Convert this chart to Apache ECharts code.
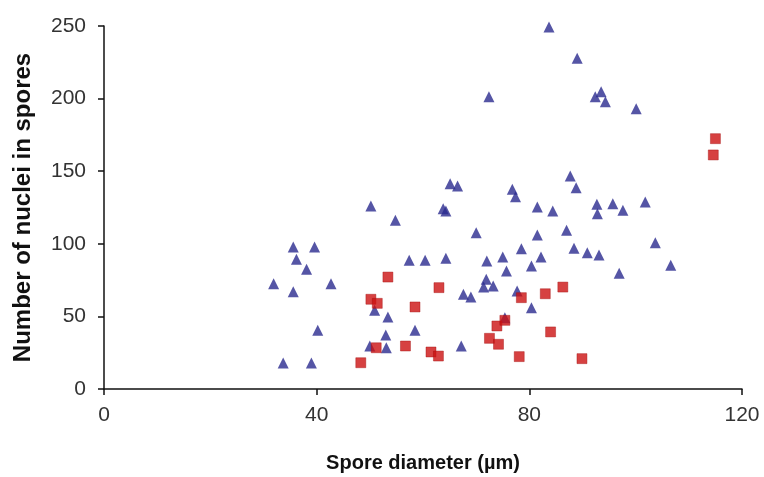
<!DOCTYPE html>
<html>
<head>
<meta charset="utf-8">
<title>Spore diameter vs nuclei</title>
<script src="https://cdn.jsdelivr.net/npm/echarts@6/dist/echarts.min.js"></script>
<style>
    html, body { margin: 0; padding: 0; background: #fff; }
    #chart { width: 764px; height: 477px; }
</style>
</head>
<body>
<div id="chart"></div>
<script>
// axis ticks
const xTicks = [0, 40, 80, 120];
const yTicks = [0, 50, 100, 150, 200, 250];

// blue triangles: [diameter, nuclei]
const triangleX = [31.9, 33.7, 35.6, 36.2, 35.6, 38.1, 39.6, 39.0, 40.2, 42.7,
    50.2, 50.9, 50.0, 53.1, 53.0, 53.4, 54.8, 57.4, 58.5, 60.4,
    63.8, 64.3, 64.3, 65.1, 66.5, 67.2, 67.6, 69.0, 70.0, 71.9,
    71.4, 73.2, 72.0, 72.4, 75.0, 75.4, 75.7, 76.8, 77.4, 77.7,
    78.5, 80.4, 80.4, 81.5, 81.5, 82.2, 83.7, 84.4, 87.0, 87.7,
    88.4, 88.8, 89.0, 90.9, 92.4, 92.7, 92.8, 93.1, 93.5, 94.3,
    95.7, 96.9, 97.6, 100.1, 101.8, 103.7, 106.6];
const triangleY = [72.5, 17.9, 97.8, 89.3, 67, 82.4, 97.8, 17.9, 40.4, 72.5,
    126, 54.2, 29.6, 28.4, 37.2, 49.6, 116.2, 88.6, 40.4, 88.6,
    124.2, 122.6, 90, 141.4, 139.8, 29.6, 65.2, 63.4, 107.6, 75.5,
    70.2, 70.9, 88.2, 201.3, 90.9, 49.1, 81.3, 137.5, 132.4, 67.5,
    96.6, 84.7, 56, 125.3, 106, 90.9, 249.3, 122.6, 109.3, 146.7,
    96.9, 138.6, 227.8, 93.9, 201.3, 127.2, 120.7, 92.3, 204.8, 197.9,
    127.6, 79.7, 123.1, 193, 128.8, 100.8, 85.2];

// red squares
const squareX = [48.3, 50.2, 51.4, 51.2, 53.4, 56.7, 58.5, 61.5, 62.9, 63.0,
    72.5, 73.9, 74.2, 75.4, 78.1, 78.5, 83.0, 84.0, 86.3, 89.9,
    114.6, 115.0];
const squareY = [18.1, 61.8, 59, 28.4, 77.1, 29.6, 56.5, 25.5, 22.7, 69.8,
    34.9, 43.4, 30.8, 47.3, 22.3, 62.9, 65.6, 39.3, 70.2, 20.9,
    161.2, 172.4];

function pairs(xs, ys) {
    return xs.map(function (x, i) { return [x, ys[i]]; });
}

const chart = echarts.init(document.getElementById('chart'));
const font = '"Liberation Sans", Arial, sans-serif';

chart.setOption({
    animation: false,
    grid: { left: 104, right: 22, top: 26, bottom: 88, outerBoundsMode: 'none' },
    xAxis: {
        type: 'value',
        min: xTicks[0],
        max: xTicks[xTicks.length - 1],
        interval: xTicks[1] - xTicks[0],
        name: 'Spore diameter (µm)',
        nameLocation: 'middle',
        nameGap: 64,
        nameTextStyle: { fontFamily: font, fontSize: 20, fontWeight: 'bold', color: '#111' },
        axisLine: { lineStyle: { color: '#111', width: 1.5 } },
        axisTick: { show: true, length: 6, lineStyle: { color: '#111', width: 1.5 } },
        axisLabel: { fontFamily: font, fontSize: 21, color: '#333', margin: 16 },
        splitLine: { show: false }
    },
    yAxis: {
        type: 'value',
        min: yTicks[0],
        max: yTicks[yTicks.length - 1],
        interval: yTicks[1] - yTicks[0],
        name: 'Number of nuclei in spores',
        nameLocation: 'middle',
        nameGap: 69,
        nameTextStyle: { fontFamily: font, fontSize: 24, fontWeight: 'bold', color: '#111' },
        axisLine: { show: true, lineStyle: { color: '#111', width: 1.5 } },
        axisTick: { show: true, length: 6, lineStyle: { color: '#111', width: 1.5 } },
        axisLabel: { fontFamily: font, fontSize: 21, color: '#333', margin: 18 },
        splitLine: { show: false }
    },
    series: [
        {
            type: 'scatter',
            symbol: 'triangle',
            symbolSize: [11, 11],
            itemStyle: { color: '#2b2b8e' },
            data: pairs(triangleX, triangleY)
        },
        {
            type: 'scatter',
            symbol: 'rect',
            symbolSize: 10,
            itemStyle: { color: '#cc1111', borderColor: '#a00a0a', borderWidth: 0.5 },
            data: pairs(squareX, squareY)
        }
    ]
});

window.onresize = function () { chart.resize(); };
</script>
</body>
</html>
